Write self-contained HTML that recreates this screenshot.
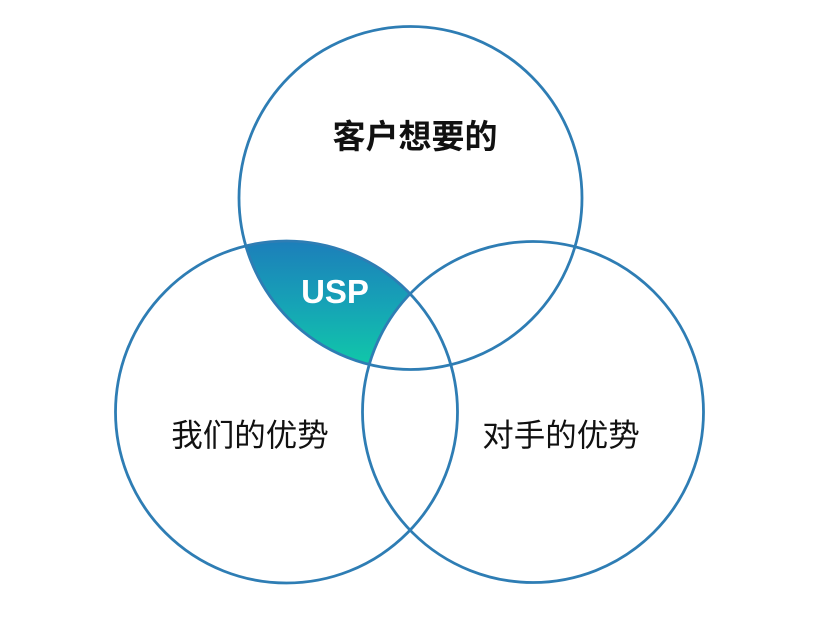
<!DOCTYPE html>
<html>
<head>
<meta charset="utf-8">
<style>
  html, body { margin: 0; padding: 0; background: #ffffff; }
  body { width: 832px; height: 640px; overflow: hidden; }
  svg { display: block; }
</style>
</head>
<body>
<svg width="832" height="640" viewBox="0 0 832 640" xmlns="http://www.w3.org/2000/svg">
  <defs>
    <linearGradient id="g" gradientUnits="userSpaceOnUse" x1="0" y1="242" x2="0" y2="368">
      <stop offset="0" stop-color="#1c7fba"/>
      <stop offset="0.5" stop-color="#16a3b6"/>
      <stop offset="1" stop-color="#10c9a8"/>
    </linearGradient>
    <mask id="m" maskUnits="userSpaceOnUse" x="0" y="0" width="832" height="640">
      <rect x="0" y="0" width="832" height="640" fill="black"/>
      <circle cx="286.5" cy="412" r="171" fill="white"/>
      <circle cx="533" cy="412" r="170.5" fill="black"/>
    </mask>
    <clipPath id="c">
      <circle cx="410.5" cy="198" r="171.5"/>
    </clipPath>
  </defs>
  <rect x="0" y="0" width="832" height="640" fill="url(#g)" mask="url(#m)" clip-path="url(#c)"/>
  <g fill="none" stroke="#2e7db4" stroke-width="2.8">
    <circle cx="410.5" cy="198" r="171.5"/>
    <circle cx="286.5" cy="412" r="171"/>
    <circle cx="533" cy="412" r="170.5"/>
  </g>
  <text x="415" y="148" text-anchor="middle" font-family="'Liberation Sans','Noto Sans CJK SC',sans-serif" font-size="33" font-weight="bold" fill="#111">客户想要的</text>
  <text x="250" y="446" text-anchor="middle" font-family="'Liberation Sans','Noto Sans CJK SC',sans-serif" font-size="31.5" fill="#111">我们的优势</text>
  <text x="561" y="446" text-anchor="middle" font-family="'Liberation Sans','Noto Sans CJK SC',sans-serif" font-size="31.5" fill="#111">对手的优势</text>
  <text x="335" y="303" text-anchor="middle" font-family="'Liberation Sans',sans-serif" font-size="33" font-weight="bold" fill="#ffffff">USP</text>
</svg>
</body>
</html>
